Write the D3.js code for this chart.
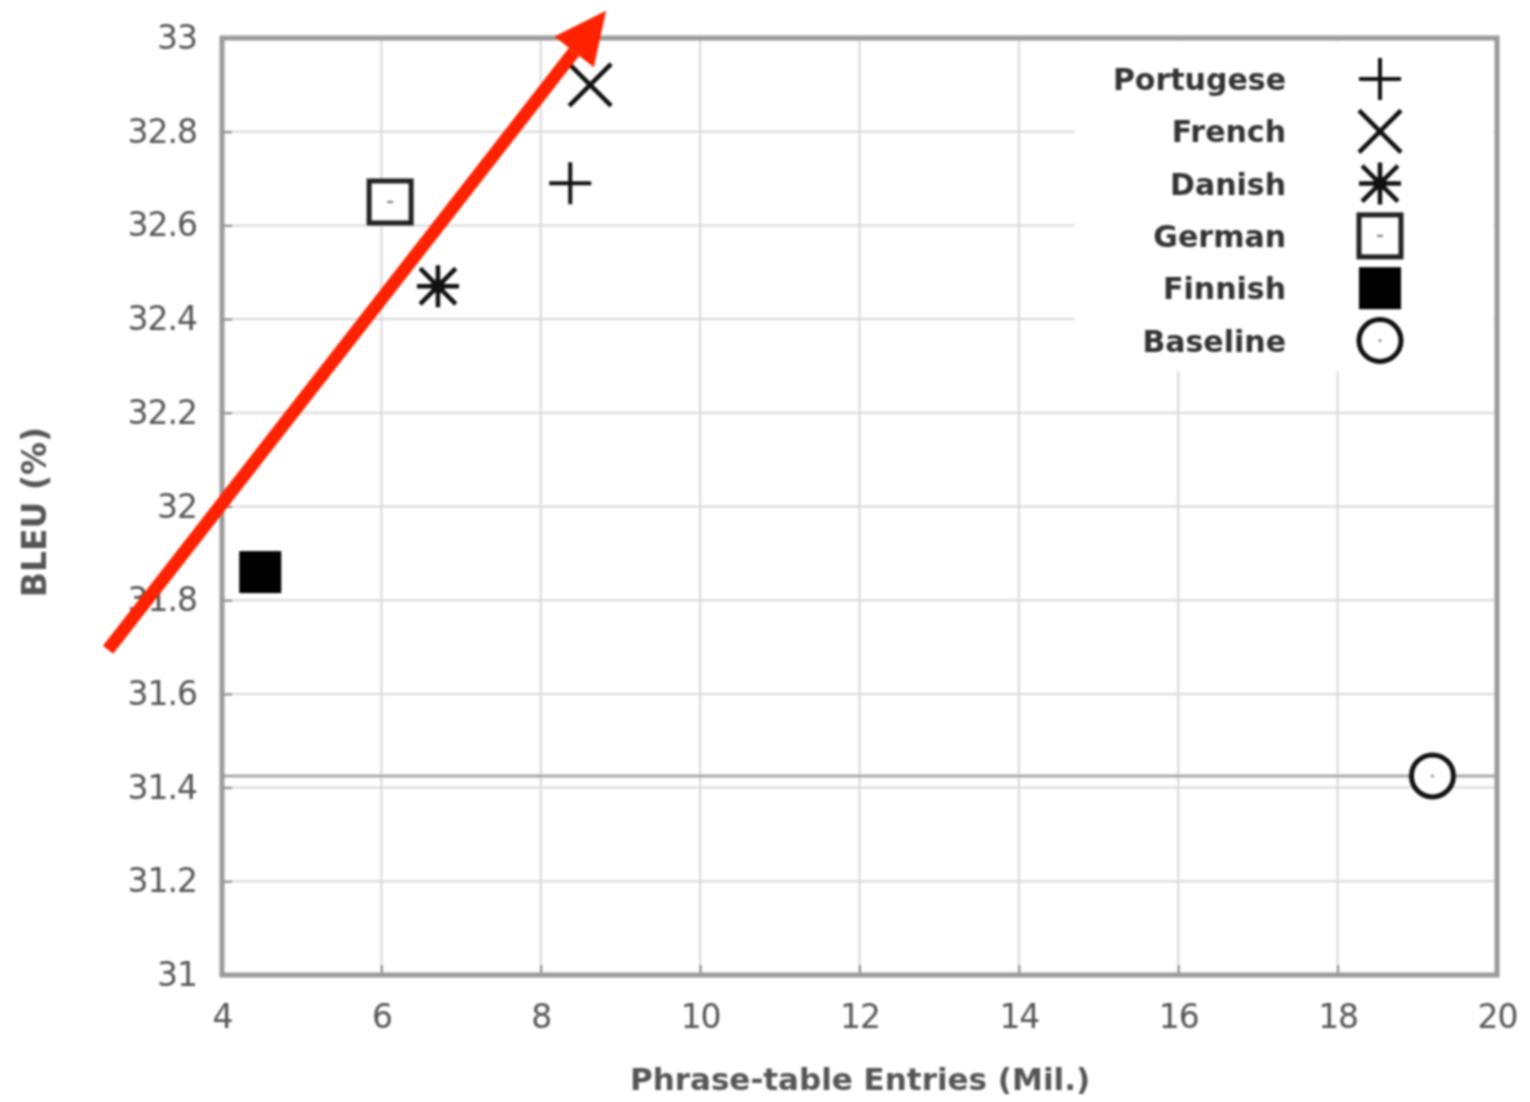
<!DOCTYPE html>
<html>
<head>
<meta charset="utf-8">
<script src="https://cdn.jsdelivr.net/npm/d3@7"></script>
<style>
  body { margin: 0; background: #fff; }
  svg { display: block; filter: blur(1px); }
  text { font-family: "DejaVu Sans", sans-serif; }
</style>
</head>
<body>
<svg id="chart"></svg>
<script>
const width = 1530;
const height = 1102;
const margin = { top: 38, right: 33, bottom: 127, left: 222 };

const languages = ["Portugese", "French", "Danish", "German", "Finnish", "Baseline"];
const entries = [8.37, 8.62, 6.71, 6.11, 4.48, 19.19];
const bleu = [32.69, 32.90, 32.47, 32.65, 31.86, 31.425];
const symbols = ["plus", "cross", "star", "square", "filled", "circle"];

const xTicks = [4, 6, 8, 10, 12, 14, 16, 18, 20];
const yTicks = [31, 31.2, 31.4, 31.6, 31.8, 32, 32.2, 32.4, 32.6, 32.8, 33];

// red annotation arrow, in data units
const arrowFrom = [2.57, 31.694];
const arrowTo = [8.82, 33.058];

const svg = d3.select("#chart")
    .attr("width", width)
    .attr("height", height);

const xScale = d3.scaleLinear()
    .domain([4, 20])
    .range([margin.left, width - margin.right]);

const yScale = d3.scaleLinear()
    .domain([31, 33])
    .range([height - margin.bottom, margin.top]);

// grid
svg.append("g")
    .selectAll("line")
    .data(xTicks.slice(1, -1))
    .enter()
    .append("line")
    .attr("x1", d => xScale(d)).attr("x2", d => xScale(d))
    .attr("y1", yScale(33)).attr("y2", yScale(31))
    .attr("stroke", "#d8d8d8").attr("stroke-width", 2);

svg.append("g")
    .selectAll("line")
    .data(yTicks.slice(1, -1))
    .enter()
    .append("line")
    .attr("x1", xScale(4)).attr("x2", xScale(20))
    .attr("y1", d => yScale(d)).attr("y2", d => yScale(d))
    .attr("stroke", "#d8d8d8").attr("stroke-width", 2);

// baseline level
svg.append("line")
    .attr("x1", xScale(4)).attr("x2", xScale(20))
    .attr("y1", yScale(bleu[5])).attr("y2", yScale(bleu[5]))
    .attr("stroke", "#a8a8a8").attr("stroke-width", 3);

// legend background covers the grid
const legendX = 1075;
svg.append("rect")
    .attr("x", legendX).attr("y", yScale(33) + 3)
    .attr("width", xScale(20) - legendX - 3)
    .attr("height", 330)
    .attr("fill", "#fff");

// axes
const xAxis = svg.append("g")
    .attr("transform", `translate(0, ${yScale(31)})`)
    .call(d3.axisBottom(xScale).tickValues(xTicks).tickSize(-10).tickPadding(30).tickFormat(d3.format("d")));

const yAxis = svg.append("g")
    .attr("transform", `translate(${xScale(4)}, 0)`)
    .call(d3.axisLeft(yScale).tickValues(yTicks).tickSize(-10).tickPadding(25).tickFormat(d => d3.format("")(+d.toFixed(1))));

[xAxis, yAxis].forEach(a => {
    a.select(".domain").remove();
    a.selectAll(".tick line").attr("stroke", "#888").attr("stroke-width", 2);
    a.selectAll(".tick text")
        .attr("fill", "#555")
        .style("font-size", "33px")
        .style("letter-spacing", "-1px");
});

// frame
svg.append("rect")
    .attr("x", xScale(4)).attr("y", yScale(33))
    .attr("width", xScale(20) - xScale(4))
    .attr("height", yScale(31) - yScale(33))
    .attr("fill", "none")
    .attr("stroke", "#9a9a9a")
    .attr("stroke-width", 5);

// axis titles
svg.append("text")
    .attr("x", 860)
    .attr("y", 1090)
    .attr("text-anchor", "middle")
    .attr("fill", "#555")
    .style("font-size", "31px")
    .style("font-weight", "bold")
    .text("Phrase-table Entries (Mil.)");

svg.append("text")
    .attr("transform", `translate(46, ${512}) rotate(-90)`)
    .attr("text-anchor", "middle")
    .attr("fill", "#555")
    .style("font-size", "33px")
    .style("font-weight", "bold")
    .text("BLEU (%)");

// marker drawing
function drawMarker(g, type) {
    const s = 21;
    const stroke = "#111";
    if (type === "plus") {
        g.append("path").attr("d", `M${-s},0H${s}M0,${-s}V${s}`)
            .attr("stroke", stroke).attr("stroke-width", 4).attr("fill", "none");
    } else if (type === "cross") {
        g.append("path").attr("d", `M${-s},${-s}L${s},${s}M${-s},${s}L${s},${-s}`)
            .attr("stroke", stroke).attr("stroke-width", 4.5).attr("fill", "none");
    } else if (type === "star") {
        g.append("path").attr("d", `M${-s},0H${s}M0,${-s}V${s}M${-s * 0.85},${-s * 0.85}L${s * 0.85},${s * 0.85}M${-s * 0.85},${s * 0.85}L${s * 0.85},${-s * 0.85}`)
            .attr("stroke", stroke).attr("stroke-width", 4.5).attr("fill", "none");
        g.append("circle").attr("r", 7).attr("fill", stroke);
    } else if (type === "square") {
        g.append("rect").attr("x", -s).attr("y", -s).attr("width", 2 * s).attr("height", 2 * s)
            .attr("stroke", "#222").attr("stroke-width", 5).attr("fill", "#fff");
        g.append("rect").attr("x", -3).attr("y", -1).attr("width", 6).attr("height", 2).attr("fill", "#777");
    } else if (type === "filled") {
        g.append("rect").attr("x", -s).attr("y", -s).attr("width", 2 * s).attr("height", 2 * s)
            .attr("fill", "#000");
    } else if (type === "circle") {
        g.append("circle").attr("r", s)
            .attr("stroke", "#111").attr("stroke-width", 5).attr("fill", "#fff");
        g.append("circle").attr("r", 1.5).attr("fill", "#888");
    }
}

// points
languages.forEach((lang, i) => {
    const g = svg.append("g")
        .attr("class", "dot")
        .attr("transform", `translate(${xScale(entries[i])}, ${yScale(bleu[i])})`);
    drawMarker(g, symbols[i]);
});

// legend
const legend = svg.append("g");
languages.forEach((lang, i) => {
    const y = 79 + i * 52.3;
    legend.append("text")
        .attr("x", 1286).attr("y", y + 11)
        .attr("text-anchor", "end")
        .attr("fill", "#333")
        .style("font-size", "30px")
        .style("font-weight", "bold")
        .text(lang);
    drawMarker(legend.append("g").attr("transform", `translate(1380, ${y})`), symbols[i]);
});

// red arrow annotation
const ax1 = xScale(arrowFrom[0]), ay1 = yScale(arrowFrom[1]);
const ax2 = xScale(arrowTo[0]), ay2 = yScale(arrowTo[1]);
const ang = Math.atan2(ay2 - ay1, ax2 - ax1);
const headLen = 52, headW = 25;
const bx = ax2 - headLen * Math.cos(ang), by = ay2 - headLen * Math.sin(ang);
svg.append("line")
    .attr("x1", ax1).attr("y1", ay1)
    .attr("x2", bx).attr("y2", by)
    .attr("stroke", "#ff2200")
    .attr("stroke-width", 13);
svg.append("path")
    .attr("d", `M${ax2},${ay2}L${bx + headW * Math.sin(ang)},${by - headW * Math.cos(ang)}L${bx - headW * Math.sin(ang)},${by + headW * Math.cos(ang)}Z`)
    .attr("fill", "#ff2200");
</script>
</body>
</html>
